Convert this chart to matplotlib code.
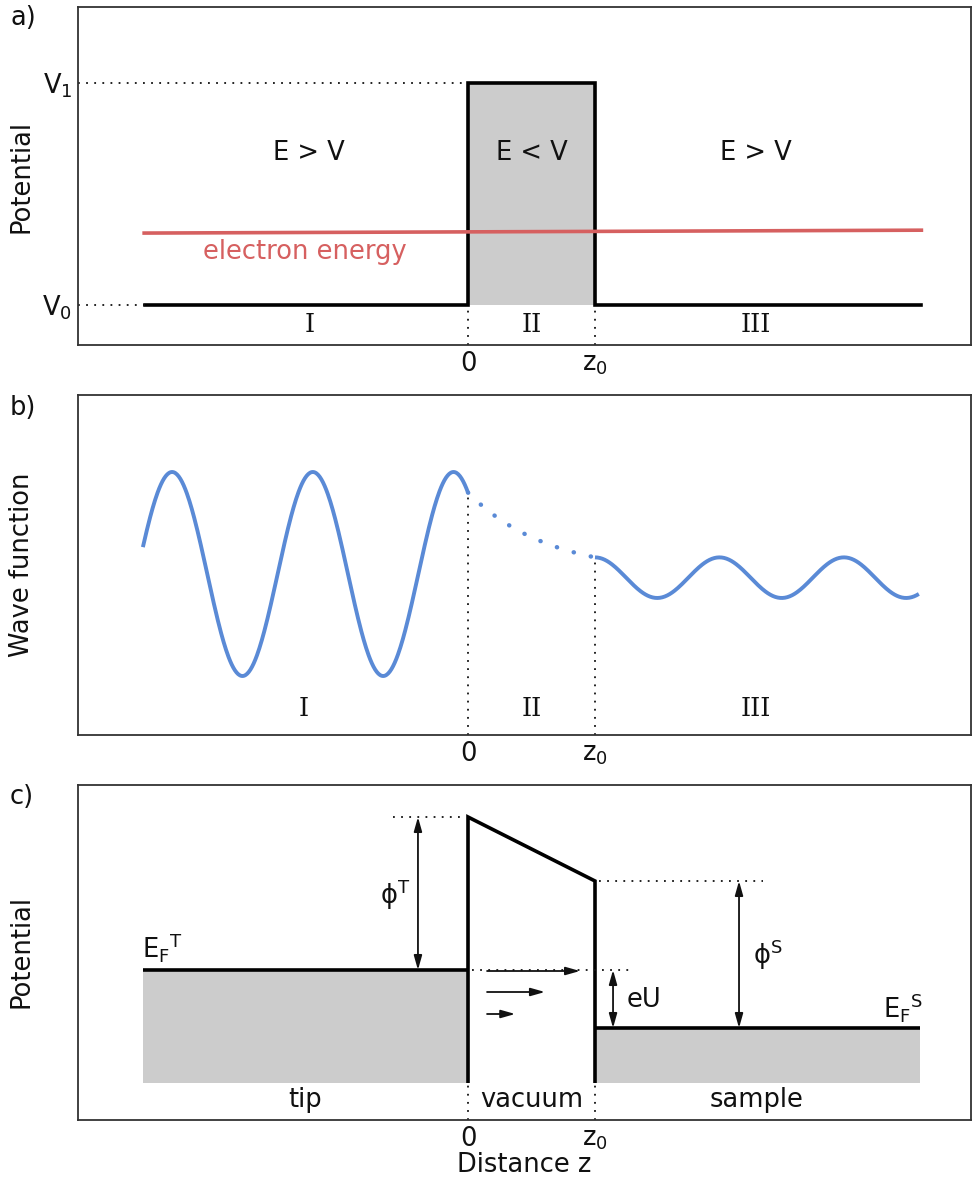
import numpy as np
import matplotlib
matplotlib.use("Agg")
import matplotlib.pyplot as plt

plt.rcParams['font.family'] = ['DejaVu Sans']
plt.rcParams['mathtext.default'] = 'regular'

# ---------------- data ----------------
# shared x positions (barrier from 0 to z0 = 1)
x_left, x_right = -2.54, 3.57
z0 = 1.0
xtick_pos = [0.0, z0]
xtick_labels = ['0', r'$z_0$']

# panel a: potential
V0, V1 = 0.0, 1.0
ytick_labels_a = [r'$V_0$', r'$V_1$']
electron_energy_x = [-2.55, 3.57]
electron_energy_y = [0.324, 0.337]
region_labels_a = ['E > V', 'E < V', 'E > V']
region_names = ['I', 'II', 'III']
region_centers = [-1.25, 0.5, 2.27]

# panel b: wave function (parameters)
wave_I_start = -2.56
wave_I_amp = 1.0
wave_I_lambda = 1.108
wave_I_peak = -2.33
wave_III_end = 3.55
wave_III_center = -0.036
wave_III_amp = 0.199
wave_III_lambda = 0.980

# panel c: STM tunnelling
EF_S = 0.55
eU = 0.58
phi_T = 1.53
phi_S = 1.47
tip_x = [-2.56, 0.0]
sample_x = [1.0, 3.56]
region_labels_c = ['tip', 'vacuum', 'sample']
tunnel_arrow_y = [1.12, 0.91, 0.69]
tunnel_arrow_end = [0.882, 0.606, 0.372]

# ---------------- style ----------------
FS = 18.5
BLACK = '#111111'
SPINE = '#333333'
GRAY = '#cccccc'
RED = '#d66060'
BLUE = '#5a8ad6'
DOT = dict(color=BLACK, lw=1.3, linestyle=(0, (1, 3.5)))
LW = 2.6

W, H = 973, 1187
fig = plt.figure(figsize=(W / 100, H / 100), dpi=100)

def add_axes(top_px, bot_px, left_px=78, right_px=971):
    return fig.add_axes([left_px / W, 1 - bot_px / H,
                         (right_px - left_px) / W, (bot_px - top_px) / H])

xlim = ((78 - 468) / 127, (971 - 468) / 127)

def style(ax):
    for s in ax.spines.values():
        s.set_color(SPINE)
        s.set_linewidth(1.3)
    ax.set_xlim(*xlim)
    ax.set_xticks(xtick_pos)
    ax.set_xticklabels(xtick_labels, fontsize=FS)
    ax.tick_params(axis='both', length=0, pad=4, labelsize=FS, colors=BLACK)

# ---------------- panel a ----------------
axa = add_axes(7, 345)
style(axa)
axa.set_ylim((305 - 345) / 222, (305 - 7) / 222)
axa.set_yticks([V0, V1])
axa.set_yticklabels(ytick_labels_a, fontsize=FS)
axa.fill_between([0, z0], V0, V1, color=GRAY, lw=0)
axa.plot([x_left, 0, 0, z0, z0, x_right], [V0, V0, V1, V1, V0, V0],
         color='black', lw=LW, solid_joinstyle='miter')
axa.plot(electron_energy_x, electron_energy_y, color=RED, lw=2.6)
axa.text(-1.283, 0.239, 'electron energy', color=RED, fontsize=FS,
         ha='center', va='center')
yb = axa.get_ylim()[0]
axa.plot([xlim[0], 0], [V1, V1], **DOT)
axa.plot([xlim[0], x_left], [V0, V0], **DOT)
axa.plot([0, 0], [yb, V0], **DOT)
axa.plot([z0, z0], [yb, V0], **DOT)
for xc, t in zip(region_centers, region_labels_a):
    axa.text(xc, 0.685, t, fontsize=FS, ha='center', va='center', color=BLACK)
for xc, t in zip(region_centers, region_names):
    axa.text(xc, -0.09, t, fontsize=FS, ha='center', va='center', color=BLACK,
             family='DejaVu Serif')

# ---------------- panel b ----------------
axb = add_axes(395, 735)
style(axb)
axb.set_yticks([])
axb.set_ylim((574 - 735) / 102, (574 - 395) / 102)
xI = np.linspace(wave_I_start, 0, 400)
psiI = wave_I_amp * np.cos(2 * np.pi * (xI - wave_I_peak) / wave_I_lambda)
xIII = np.linspace(z0, wave_III_end, 400)
psiIII = wave_III_center + wave_III_amp * np.cos(2 * np.pi * (xIII - z0) / wave_III_lambda)
a0 = psiI[-1]
kappa = np.log(a0 / psiIII[0])
xII = np.linspace(0, z0, 200)
psiII = a0 * np.exp(-kappa * xII)
axb.plot(xI, psiI, color=BLUE, lw=2.8, solid_capstyle='butt')
axb.plot(xIII, psiIII, color=BLUE, lw=2.8, solid_capstyle='butt')
axb.plot(xII, psiII, color=BLUE, lw=3.2, linestyle=(0, (0.05, 3.9)),
         dash_capstyle='round')
ybb = axb.get_ylim()[0]
axb.plot([0, 0], [ybb, a0], **DOT)
axb.plot([z0, z0], [ybb, psiIII[0]], **DOT)
for xc, t in zip([-1.295, 0.5, 2.27], region_names):
    axb.text(xc, -1.314, t, fontsize=FS, ha='center', va='center', color=BLACK,
             family='DejaVu Serif')

# ---------------- panel c ----------------
axc = add_axes(785, 1120)
style(axc)
axc.set_yticks([])
axc.set_ylim((1083 - 1120) / 100, (1083 - 785) / 100)
EF_T = EF_S + eU
top_T = EF_T + phi_T
top_S = EF_S + phi_S
axc.fill_between(tip_x, 0, EF_T, color=GRAY, lw=0)
axc.fill_between(sample_x, 0, EF_S, color=GRAY, lw=0)
axc.plot(tip_x, [EF_T, EF_T], color='black', lw=LW, solid_capstyle='butt')
axc.plot(sample_x, [EF_S, EF_S], color='black', lw=LW, solid_capstyle='butt')
axc.plot([0, 0, z0, z0], [0, top_T, top_S, 0], color='black', lw=LW,
         solid_joinstyle='miter', solid_capstyle='butt')
ybc = axc.get_ylim()[0]
axc.plot([0, 0], [ybc, 0], **DOT)
axc.plot([z0, z0], [ybc, 0], **DOT)
axc.plot([-0.59, -0.02], [top_T, top_T], **DOT)
axc.plot([1.03, 2.32], [top_S, top_S], **DOT)
axc.plot([0.03, 1.27], [EF_T, EF_T], **DOT)

HEAD = 'head_length=0.85,head_width=0.24'

def darrow(x, y0, y1):
    axc.annotate('', xy=(x, y1), xytext=(x, y0),
                 arrowprops=dict(arrowstyle='<|-|>,' + HEAD,
                                 color=BLACK, lw=1.3, shrinkA=0, shrinkB=0))

darrow(-0.394, EF_T, top_T)
darrow(2.134, EF_S, top_S)
darrow(1.142, EF_S, EF_T)
for y, xe in zip(tunnel_arrow_y, tunnel_arrow_end):
    axc.annotate('', xy=(xe, y), xytext=(0.15, y),
                 arrowprops=dict(arrowstyle='-|>,' + HEAD,
                                 color=BLACK, lw=1.3, shrinkA=0, shrinkB=0))
axc.text(-0.575, 1.88, r'$ϕ^T$', fontsize=FS, ha='center', va='center', color=BLACK)
axc.text(2.36, 1.28, r'$ϕ^S$', fontsize=FS, ha='center', va='center', color=BLACK)
axc.text(1.386, 0.83, 'eU', fontsize=FS, ha='center', va='center', color=BLACK)
axc.text(-2.567, 1.35, r'$E_F{}^T$', fontsize=FS, ha='left', va='center', color=BLACK)
axc.text(3.583, 0.76, r'$E_F{}^S$', fontsize=FS, ha='right', va='center', color=BLACK)
for xc, t in zip([-1.283, 0.5, 2.276], region_labels_c):
    axc.text(xc, -0.17, t, fontsize=FS, ha='center', va='center', color=BLACK)
axc.set_xlabel('Distance z', fontsize=FS, color=BLACK, labelpad=0)

# ---------------- labels ----------------
fig.text(22 / W, 1 - 176 / H, 'Potential', rotation=90, fontsize=FS,
         ha='center', va='center', color=BLACK)
fig.text(22 / W, 1 - 565 / H, 'Wave function', rotation=90, fontsize=FS,
         ha='center', va='center', color=BLACK)
fig.text(22 / W, 1 - 952 / H, 'Potential', rotation=90, fontsize=FS,
         ha='center', va='center', color=BLACK)
for lab, ypx in zip(['a)', 'b)', 'c)'], [18, 408, 797]):
    fig.text(10 / W, 1 - ypx / H, lab, fontsize=FS, ha='left', va='center',
             color=BLACK)

fig.savefig('out.png', dpi=100)
